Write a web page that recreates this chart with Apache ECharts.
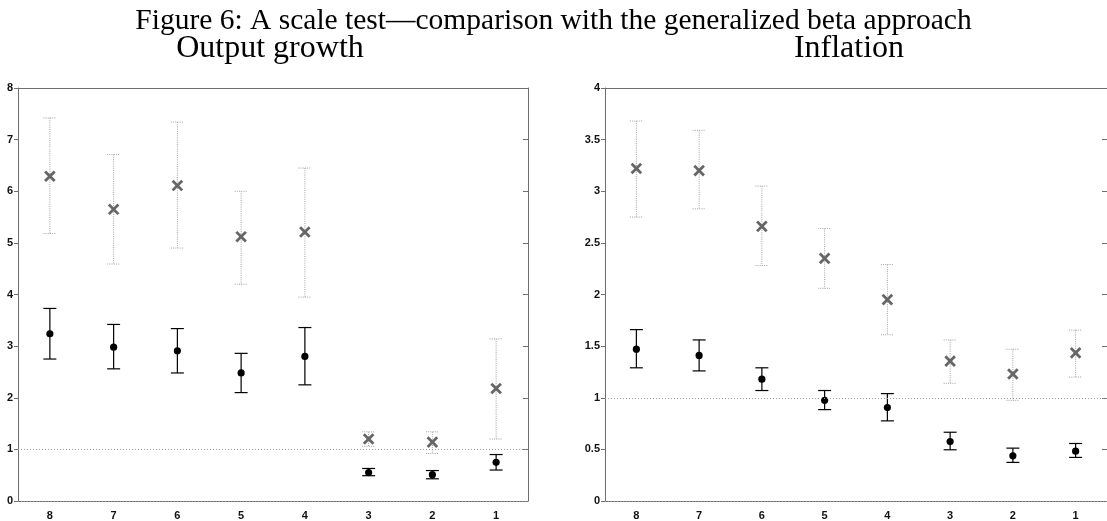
<!DOCTYPE html>
<html>
<head>
<meta charset="utf-8">
<script src="https://cdn.jsdelivr.net/npm/echarts@6/dist/echarts.min.js"></script>
<style>html,body{margin:0;padding:0;background:#fff}#c{width:1107px;height:521px}</style>
</head>
<body>
<div id="c"></div>
<script>
const categories = ['8','7','6','5','4','3','2','1'];
const outputYTicks = [0,1,2,3,4,5,6,7,8];
const inflationYTicks = [0,0.5,1,1.5,2,2.5,3,3.5,4];
const referenceLevels = [1, 0];

// Output growth: generalized beta (gray x, dotted bars)
const outBetaMid = [6.29, 5.65, 6.11, 5.12, 5.21, 1.20, 1.14, 2.18];
const outBetaLo  = [5.18, 4.59, 4.90, 4.20, 3.95, 1.06, 0.92, 1.20];
const outBetaHi  = [7.42, 6.71, 7.34, 6.00, 6.45, 1.34, 1.34, 3.14];
// Output growth: scale test (black dots, solid bars)
const outMid = [3.24, 2.98, 2.91, 2.48, 2.80, 0.55, 0.51, 0.75];
const outLo  = [2.75, 2.56, 2.48, 2.10, 2.25, 0.49, 0.43, 0.60];
const outHi  = [3.73, 3.42, 3.34, 2.86, 3.36, 0.63, 0.59, 0.90];

// Inflation: generalized beta
const infBetaMid = [3.22, 3.20, 2.66, 2.35, 1.95, 1.355, 1.23, 1.435];
const infBetaLo  = [2.75, 2.83, 2.28, 2.06, 1.61, 1.14, 0.975, 1.20];
const infBetaHi  = [3.68, 3.59, 3.05, 2.64, 2.29, 1.56, 1.47, 1.655];
// Inflation: scale test
const infMid = [1.47, 1.41, 1.18, 0.975, 0.905, 0.576, 0.438, 0.483];
const infLo  = [1.29, 1.26, 1.07, 0.885, 0.776, 0.496, 0.374, 0.422];
const infHi  = [1.66, 1.56, 1.29, 1.07, 1.04, 0.666, 0.512, 0.557];

const AXC = '#6e6e6e';
const LABEL_FONT = {fontFamily:'Liberation Sans', fontSize:11, fontWeight:'bold', color:'#111'};

function rows(mid, lo, hi){ return categories.map((c,i)=>[i, mid[i], lo[i], hi[i]]); }

function betaRender(params, api){
  const hi = api.coord([api.value(0), api.value(3)]);
  const lo = api.coord([api.value(0), api.value(2)]);
  const m = api.coord([api.value(0), api.value(1)]);
  const hw = 6.5, s = 4.8;
  const dash = {stroke:'#a0a0a0', lineWidth:1, lineDash:[1,1.2]};
  const xs = {stroke:'#666', lineWidth:2.8};
  return {type:'group', children:[
    {type:'line', shape:{x1:hi[0],y1:hi[1],x2:lo[0],y2:lo[1]}, style:dash},
    {type:'line', shape:{x1:hi[0]-hw,y1:hi[1],x2:hi[0]+hw,y2:hi[1]}, style:dash},
    {type:'line', shape:{x1:lo[0]-hw,y1:lo[1],x2:lo[0]+hw,y2:lo[1]}, style:dash},
    {type:'line', shape:{x1:m[0]-s,y1:m[1]-s,x2:m[0]+s,y2:m[1]+s}, style:xs},
    {type:'line', shape:{x1:m[0]-s,y1:m[1]+s,x2:m[0]+s,y2:m[1]-s}, style:xs}
  ]};
}
function scaleRender(params, api){
  const hi = api.coord([api.value(0), api.value(3)]);
  const lo = api.coord([api.value(0), api.value(2)]);
  const m = api.coord([api.value(0), api.value(1)]);
  const hw = 6.5;
  const st = {stroke:'#000', lineWidth:1.2};
  return {type:'group', children:[
    {type:'line', shape:{x1:hi[0],y1:hi[1],x2:lo[0],y2:lo[1]}, style:st},
    {type:'line', shape:{x1:hi[0]-hw,y1:hi[1],x2:hi[0]+hw,y2:hi[1]}, style:st},
    {type:'line', shape:{x1:lo[0]-hw,y1:lo[1],x2:lo[0]+hw,y2:lo[1]}, style:st},
    {type:'circle', shape:{cx:m[0], cy:m[1], r:3.6}, style:{fill:'#000'}}
  ]};
}

function xAxes(gi){
  return [
    {type:'category', gridIndex:gi, data:categories, position:'bottom', boundaryGap:true,
     axisLine:{onZero:false, lineStyle:{color:AXC, width:1}}, axisTick:{alignWithLabel:true, inside:true, length:5, lineStyle:{color:AXC}},
     axisLabel:Object.assign({margin:9}, LABEL_FONT), splitLine:{show:false}},
    {type:'category', gridIndex:gi, data:categories, position:'top', boundaryGap:true,
     axisLine:{onZero:false, lineStyle:{color:AXC, width:1}}, axisTick:{alignWithLabel:true, inside:true, length:5, lineStyle:{color:AXC}},
     axisLabel:{show:false}, splitLine:{show:false}}
  ];
}
function yAxes(gi, ticks){
  const mn = ticks[0], mx = ticks[ticks.length-1], iv = ticks[1]-ticks[0];
  return [
    {type:'value', gridIndex:gi, min:mn, max:mx, interval:iv, position:'left',
     axisLine:{show:true, onZero:false, lineStyle:{color:AXC}}, axisTick:{show:true, inside:false, length:4, lineStyle:{color:AXC}},
     axisLabel:Object.assign({margin:5}, LABEL_FONT), splitLine:{show:false}},
    {type:'value', gridIndex:gi, min:mn, max:mx, interval:iv, position:'right',
     axisLine:{show:true, onZero:false, lineStyle:{color:AXC}}, axisTick:{show:true, inside:true, length:5, lineStyle:{color:AXC}},
     axisLabel:{show:false}, splitLine:{show:false}}
  ];
}
function refLine(){
  return {silent:true, symbol:'none', label:{show:false},
    lineStyle:{color:'#999', type:[1,2], width:1},
    data: referenceLevels.map(v=>({yAxis:v}))};
}

const chart = echarts.init(document.getElementById('c'), null, {renderer:'canvas'});
chart.setOption({
  animation:false,
  backgroundColor:'#fff',
  title:[
    {text:'Figure 6: A scale test\u2014comparison with the generalized beta approach', left:'center', top:1,
     textStyle:{fontFamily:'Liberation Serif', fontWeight:'normal', fontSize:29.5, color:'#000'}},
    {text:'Output growth', left:265, textAlign:'center', top:28,
     textStyle:{fontFamily:'Liberation Serif', fontWeight:'normal', fontSize:32, color:'#000'}},
    {text:'Inflation', left:844, textAlign:'center', top:28,
     textStyle:{fontFamily:'Liberation Serif', fontWeight:'normal', fontSize:32, color:'#000'}}
  ],
  grid:[
    {left:18, top:88, width:510, height:415},
    {left:605, top:88, width:510, height:415}
  ],
  xAxis:[].concat(xAxes(0), xAxes(1)),
  yAxis:[].concat(yAxes(0, outputYTicks), yAxes(1, inflationYTicks)),
  series:[
    {type:'custom', xAxisIndex:0, yAxisIndex:0, renderItem:betaRender, data:rows(outBetaMid,outBetaLo,outBetaHi),
     encode:{x:0, y:[1,2,3]}, markLine:refLine(), z:2},
    {type:'custom', xAxisIndex:0, yAxisIndex:0, renderItem:scaleRender, data:rows(outMid,outLo,outHi),
     encode:{x:0, y:[1,2,3]}, z:3},
    {type:'custom', xAxisIndex:2, yAxisIndex:2, renderItem:betaRender, data:rows(infBetaMid,infBetaLo,infBetaHi),
     encode:{x:0, y:[1,2,3]}, markLine:refLine(), z:2},
    {type:'custom', xAxisIndex:2, yAxisIndex:2, renderItem:scaleRender, data:rows(infMid,infLo,infHi),
     encode:{x:0, y:[1,2,3]}, z:3}
  ]
});
</script>
</body>
</html>
